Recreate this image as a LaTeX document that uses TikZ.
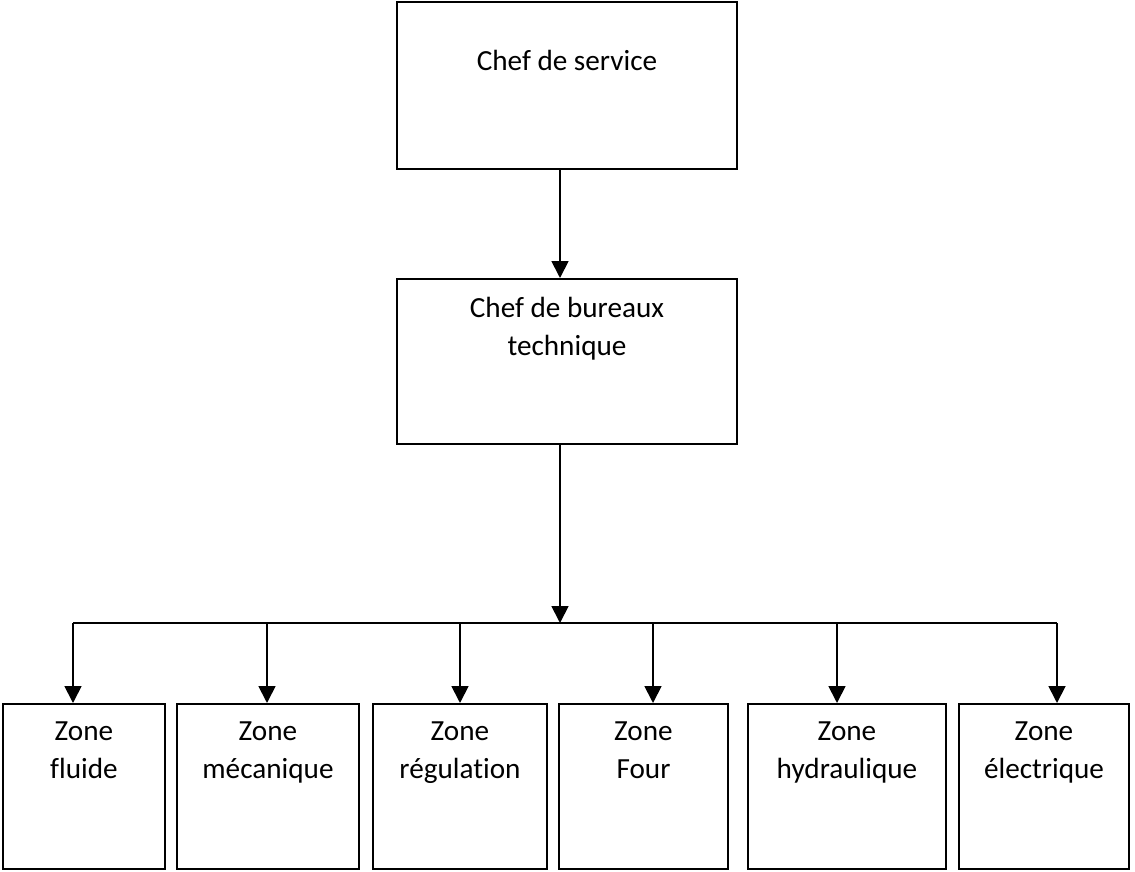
\documentclass[tikz,border=0pt]{standalone}
\usepackage{fontspec}
\setmainfont{Carlito}[Ligatures=NoCommon]
\usepackage{tikz}
\usetikzlibrary{positioning,arrows.meta}

\begin{document}
\begin{tikzpicture}[x=0.5pt,y=-0.5pt,
  boite/.style={draw,line width=1pt,minimum height=82.5pt,inner sep=0pt},
  txt/.style={font=\fontsize{14.6}{19}\selectfont,align=center,inner sep=0pt},
  fleche/.style={line width=0.9pt,-{Triangle[length=8.5pt,width=8.5pt]}},
  ligne/.style={line width=0.9pt}]
\useasboundingbox (0,0) rectangle (1135,872);
% niveau direction
\node[boite,minimum width=170pt,minimum height=83.5pt] (chef) at (567,85.5) {};
\node[txt,below=24.5pt of chef.north] (tchef) {Chef de service};
\node[boite,minimum width=170pt] (bureau) at (567,361.5) {};
\node[txt,below=9.5pt of bureau.north] (tbureau) {Chef de bureaux\\technique};
% zones
\node[boite,minimum width=81pt] (z1) at (84,786.5) {};
\node[boite,minimum width=91pt] (z2) at (268,786.5) {};
\node[boite,minimum width=87pt] (z3) at (460,786.5) {};
\node[boite,minimum width=84.5pt] (z4) at (643.5,786.5) {};
\node[boite,minimum width=99pt] (z5) at (847,786.5) {};
\node[boite,minimum width=85pt] (z6) at (1044,786.5) {};
\node[txt,below=9pt of z1.north] (t1) {Zone\\fluide};
\node[txt,below=9pt of z2.north] (t2) {Zone\\mécanique};
\node[txt,below=9pt of z3.north] (t3) {Zone\\régulation};
\node[txt,below=9pt of z4.north] (t4) {Zone\\Four};
\node[txt,below=9pt of z5.north] (t5) {Zone\\hydraulique};
\node[txt,below=9pt of z6.north] (t6) {Zone\\électrique};
% liaisons
\coordinate (hub) at (560,623);
\coordinate (b1) at (73,623);
\coordinate (b2) at (267,623);
\coordinate (b3) at (460,623);
\coordinate (b4) at (653,623);
\coordinate (b5) at (837,623);
\coordinate (b6) at (1057,623);
\draw[fleche] (chef.south -| hub) -- (bureau.north -| hub);
\draw[fleche] (bureau.south -| hub) -- (hub);
\draw[ligne] (b1) -- (b6);
\draw[fleche] (b1) -- (b1 |- z1.north);
\draw[fleche] (b2) -- (b2 |- z2.north);
\draw[fleche] (b3) -- (b3 |- z3.north);
\draw[fleche] (b4) -- (b4 |- z4.north);
\draw[fleche] (b5) -- (b5 |- z5.north);
\draw[fleche] (b6) -- (b6 |- z6.north);
\end{tikzpicture}
\end{document}
